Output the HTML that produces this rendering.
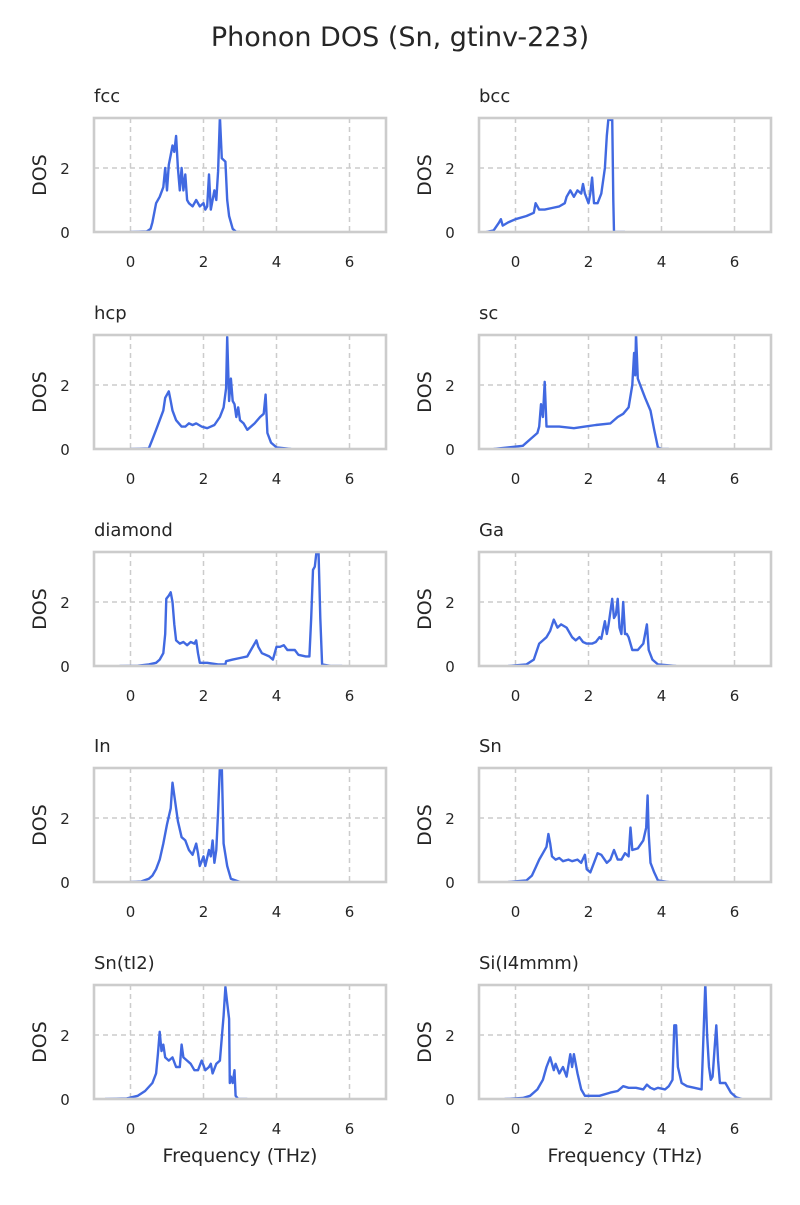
<!DOCTYPE html>
<html><head><meta charset="utf-8"><style>
body{margin:0;background:#fff;}
svg text{font-family:"DejaVu Sans","Liberation Sans",sans-serif;fill:#262626;}
</style></head><body>
<svg id="fig" width="800" height="1200" xmlns="http://www.w3.org/2000/svg">
<text x="400" y="46" font-size="27" text-anchor="middle">Phonon DOS (Sn, gtinv-223)</text>
</svg>
<script>
const panelNames = ["fcc","bcc","hcp","sc","diamond","Ga","In","Sn","Sn(tI2)","Si(I4mmm)"];
const xTicks = [0,2,4,6];
const yTicks = [0,2];
const fcc = [[0,0],[0.45,0.02],[0.55,0.1],[0.6,0.3],[0.7,0.9],[0.8,1.1],[0.9,1.4],[0.95,2.0],[1.0,1.3],[1.05,2.1],[1.1,2.4],[1.15,2.7],[1.2,2.5],[1.25,3.0],[1.3,2.0],[1.35,1.3],[1.4,2.0],[1.45,1.3],[1.5,1.8],[1.55,1.0],[1.6,0.9],[1.7,0.8],[1.8,1.0],[1.9,0.8],[2.0,0.9],[2.05,0.7],[2.1,0.8],[2.15,1.8],[2.2,0.7],[2.3,1.3],[2.35,1.0],[2.4,1.9],[2.45,3.6],[2.5,2.3],[2.6,2.2],[2.65,1.0],[2.7,0.5],[2.8,0.1],[2.9,0],[3.0,0]];
const bcc = [[-0.8,0],[-0.6,0.05],[-0.45,0.3],[-0.4,0.4],[-0.35,0.2],[-0.2,0.3],[0,0.4],[0.3,0.5],[0.5,0.6],[0.55,0.9],[0.65,0.7],[0.8,0.7],[1.0,0.75],[1.2,0.8],[1.35,0.9],[1.4,1.1],[1.5,1.3],[1.6,1.1],[1.7,1.3],[1.8,1.2],[1.85,1.5],[1.9,1.2],[2.0,0.9],[2.05,1.2],[2.1,1.7],[2.15,0.9],[2.25,0.9],[2.35,1.2],[2.45,2.0],[2.5,3.0],[2.55,3.6],[2.6,3.5],[2.65,3.6],[2.68,1.0],[2.7,0],[3,0]];
const hcp = [[0,0],[0.5,0.02],[0.6,0.3],[0.7,0.6],[0.8,0.9],[0.9,1.2],[0.95,1.6],[1.05,1.8],[1.1,1.5],[1.15,1.2],[1.25,0.9],[1.4,0.7],[1.5,0.7],[1.6,0.8],[1.7,0.75],[1.8,0.8],[1.95,0.7],[2.1,0.65],[2.3,0.75],[2.45,1.0],[2.55,1.3],[2.62,1.9],[2.65,3.5],[2.7,1.5],[2.75,2.2],[2.8,1.5],[2.85,1.4],[2.9,1.0],[2.95,1.3],[3.0,0.9],[3.1,0.8],[3.2,0.6],[3.4,0.8],[3.55,1.0],[3.65,1.1],[3.7,1.7],[3.75,0.5],[3.85,0.2],[4.0,0.05],[4.4,0]];
const sc = [[-0.6,0],[-0.2,0.05],[0.2,0.1],[0.4,0.3],[0.6,0.5],[0.65,0.7],[0.7,1.4],[0.75,1.0],[0.8,2.1],[0.85,0.7],[1.2,0.7],[1.6,0.65],[1.9,0.7],[2.2,0.75],[2.6,0.8],[2.8,1.0],[2.95,1.1],[3.1,1.3],[3.2,2.0],[3.25,3.0],[3.28,2.3],[3.3,3.6],[3.35,2.2],[3.45,1.9],[3.55,1.6],[3.7,1.2],[3.8,0.6],[3.9,0.05],[4.0,0],[4.2,0]];
const diamond = [[-0.3,0],[0.2,0.01],[0.5,0.05],[0.7,0.1],[0.8,0.2],[0.9,0.4],[0.95,1.0],[0.98,2.1],[1.05,2.2],[1.1,2.3],[1.15,2.0],[1.2,1.3],[1.25,0.8],[1.35,0.7],[1.45,0.75],[1.55,0.65],[1.65,0.75],[1.75,0.7],[1.8,0.8],[1.85,0.4],[1.9,0.1],[2.1,0.1],[2.4,0.05],[2.6,0.05],[2.62,0.15],[2.8,0.2],[3.0,0.25],[3.2,0.3],[3.3,0.5],[3.4,0.7],[3.45,0.8],[3.5,0.6],[3.6,0.4],[3.8,0.3],[3.9,0.2],[4.0,0.6],[4.1,0.6],[4.2,0.65],[4.3,0.5],[4.5,0.5],[4.6,0.35],[4.8,0.3],[4.9,0.3],[4.95,1.5],[5.0,3.0],[5.05,3.1],[5.1,3.6],[5.15,3.6],[5.2,1.5],[5.25,0.05],[5.5,0],[5.8,0]];
const ga = [[-0.2,0],[0.3,0.05],[0.5,0.2],[0.65,0.7],[0.75,0.8],[0.85,0.9],[0.95,1.1],[1.05,1.45],[1.15,1.2],[1.25,1.3],[1.4,1.2],[1.55,0.9],[1.65,0.8],[1.75,0.9],[1.85,0.75],[1.95,0.7],[2.1,0.7],[2.2,0.75],[2.3,0.9],[2.35,0.85],[2.45,1.4],[2.5,1.0],[2.55,1.3],[2.65,2.1],[2.7,1.5],[2.75,1.6],[2.8,2.1],[2.85,1.2],[2.9,1.0],[2.95,2.0],[3.0,1.0],[3.05,1.0],[3.1,0.9],[3.2,0.5],[3.35,0.5],[3.5,0.7],[3.55,1.0],[3.6,1.3],[3.65,0.5],[3.75,0.2],[3.9,0.05],[4.4,0]];
const inn = [[0,0],[0.3,0.02],[0.5,0.1],[0.6,0.2],[0.7,0.4],[0.8,0.7],[0.9,1.2],[1.0,1.8],[1.1,2.3],[1.15,3.1],[1.2,2.7],[1.3,1.9],[1.4,1.4],[1.5,1.3],[1.6,1.0],[1.7,0.85],[1.8,1.2],[1.85,0.9],[1.9,0.5],[2.0,0.8],[2.05,0.5],[2.15,1.0],[2.2,0.8],[2.25,1.3],[2.3,0.6],[2.35,1.0],[2.4,2.2],[2.45,3.6],[2.5,3.6],[2.55,1.2],[2.65,0.5],[2.75,0.1],[3.0,0]];
const sn = [[-0.2,0],[0.3,0.05],[0.45,0.2],[0.55,0.45],[0.65,0.7],[0.75,0.9],[0.85,1.1],[0.9,1.5],[0.95,1.2],[1.0,0.8],[1.1,0.7],[1.2,0.75],[1.3,0.65],[1.45,0.7],[1.55,0.65],[1.7,0.7],[1.8,0.6],[1.9,0.85],[1.95,0.4],[2.05,0.3],[2.15,0.6],[2.25,0.9],[2.35,0.85],[2.5,0.6],[2.6,0.7],[2.7,1.0],[2.8,0.7],[2.9,0.7],[3.0,0.9],[3.1,0.8],[3.15,1.7],[3.2,1.0],[3.35,1.05],[3.5,1.3],[3.58,1.7],[3.62,2.7],[3.65,1.5],[3.7,0.6],[3.8,0.3],[3.9,0.05],[4.2,0]];
const snTI2 = [[-0.7,0],[-0.1,0.02],[0.2,0.1],[0.4,0.25],[0.6,0.5],[0.7,0.8],[0.75,1.4],[0.8,2.1],[0.85,1.5],[0.9,1.7],[0.95,1.3],[1.05,1.2],[1.15,1.3],[1.25,1.0],[1.35,1.0],[1.4,1.7],[1.45,1.3],[1.55,1.2],[1.65,1.1],[1.75,0.9],[1.85,0.9],[1.95,1.2],[2.05,0.9],[2.15,1.0],[2.2,1.1],[2.25,0.8],[2.35,1.1],[2.45,1.2],[2.55,2.6],[2.6,3.5],[2.65,3.0],[2.7,2.5],[2.72,0.5],[2.75,0.7],[2.8,0.5],[2.85,0.9],[2.88,0.1],[2.95,0],[3.2,0]];
const siI4mmm = [[-0.3,0],[0.2,0.03],[0.4,0.1],[0.6,0.3],[0.75,0.6],[0.85,1.0],[0.95,1.3],[1.0,1.1],[1.05,0.9],[1.1,1.1],[1.2,0.8],[1.3,1.0],[1.4,0.7],[1.5,1.4],[1.55,1.0],[1.6,1.4],[1.7,0.8],[1.8,0.3],[1.9,0.1],[2.3,0.1],[2.6,0.2],[2.8,0.25],[2.95,0.4],[3.1,0.35],[3.3,0.35],[3.5,0.3],[3.6,0.45],[3.7,0.35],[3.8,0.3],[3.9,0.35],[4.1,0.3],[4.2,0.4],[4.3,0.6],[4.35,2.3],[4.4,2.3],[4.45,1.0],[4.55,0.5],[4.7,0.4],[4.9,0.35],[5.1,0.3],[5.15,2.0],[5.2,3.6],[5.25,2.0],[5.3,1.0],[5.35,0.6],[5.4,0.7],[5.45,1.5],[5.5,2.3],[5.55,1.2],[5.6,0.5],[5.75,0.5],[5.9,0.2],[6.05,0.05],[6.2,0]];
const series = [fcc,bcc,hcp,sc,diamond,ga,inn,sn,snTI2,siI4mmm];

const NS="http://www.w3.org/2000/svg";
const svg=document.getElementById('fig');
const xMin=-1,xMax=7,yMin=0,yMax=3.56;
const colL=[94,479],rowT=[118,335,552,768,985],W=292,H=114;
function mk(tag,attrs,parent){const e=document.createElementNS(NS,tag);for(const k in attrs)e.setAttribute(k,attrs[k]);(parent||svg).appendChild(e);return e;}
series.forEach((data,i)=>{
  const x0=colL[i%2],y0=rowT[Math.floor(i/2)];
  const sx=v=>x0+(v-xMin)/(xMax-xMin)*W;
  const sy=v=>y0+H-(v-yMin)/(yMax-yMin)*H;
  const g=mk('g',{});
  
  
  const cp=mk('clipPath',{id:'cp'+i},g);mk('rect',{x:x0,y:y0,width:W,height:H},cp);
  xTicks.forEach(t=>{
    const l=mk('line',{x1:sx(t),x2:sx(t),y1:y0,y2:y0+H,stroke:'#cccccc','stroke-width':1.5,'stroke-dasharray':'5,4'},g);
    
    
    const tx=mk('text',{x:sx(t),y:y0+H+35,'font-size':15,'text-anchor':'middle'},g);tx.textContent=t;
    
    
  });
  yTicks.forEach(t=>{
    const l=mk('line',{x1:x0,x2:x0+W,y1:sy(t),y2:sy(t),stroke:'#cccccc','stroke-width':1.5,'stroke-dasharray':'5,4'},g);
    
    
    const tx=mk('text',{x:x0-29,y:sy(t)+6,'font-size':15,'text-anchor':'middle'},g);tx.textContent=t;
    
    
  });
  const p=mk('polyline',{points:data.map(d=>sx(d[0]).toFixed(1)+','+sy(d[1]).toFixed(1)).join(' '),fill:'none',stroke:'#4169e1','stroke-width':2.4,'stroke-linejoin':'round','clip-path':'url(#cp'+i+')'},g);
  
  
  const r=mk('rect',{x:x0,y:y0,width:W,height:H,fill:'none',stroke:'#cccccc','stroke-width':2.6},g);
  
  
  const t=mk('text',{x:x0,y:y0-16,'font-size':18},g);t.textContent=panelNames[i];
  
  
  const yl=mk('text',{x:0,y:0,'font-size':19,'text-anchor':'middle',transform:'translate('+(x0-48)+','+(y0+H/2)+') rotate(-90)'},g);yl.textContent='DOS';
  
  
  if(Math.floor(i/2)===4){
    const xl=mk('text',{x:x0+W/2,y:y0+H+63,'font-size':19,'text-anchor':'middle'},g);xl.textContent='Frequency (THz)';
    
    
  }
});
</script>
</body></html>
